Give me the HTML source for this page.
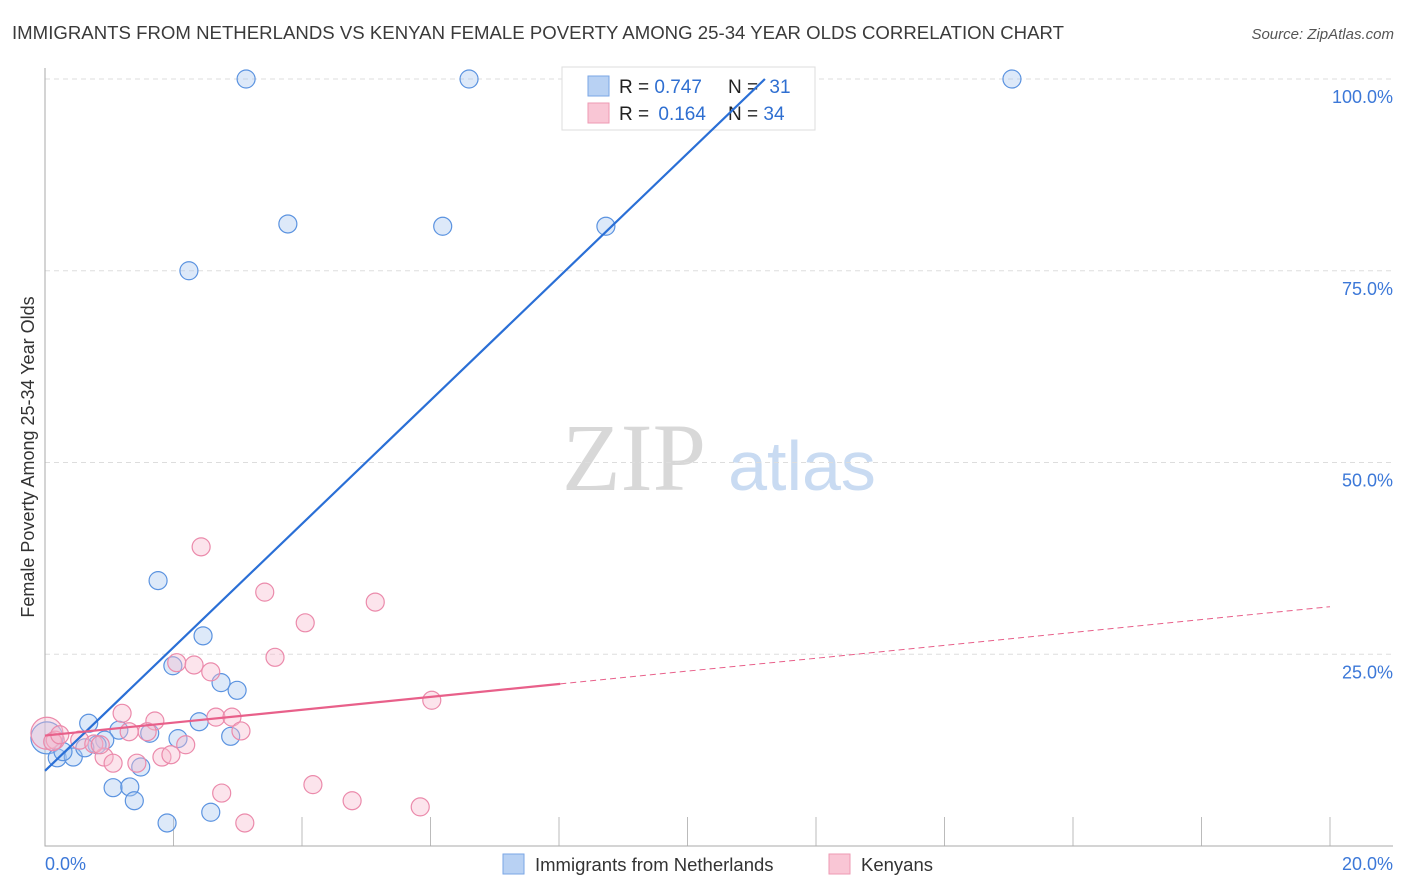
<!DOCTYPE html>
<html><head><meta charset="utf-8"><style>
body{margin:0;background:#fff;font-family:"Liberation Sans",sans-serif}
svg{display:block}
</style></head><body>
<svg id="c" width="1406" height="892">
<text x="12" y="39" font-size="18.6" fill="#3a3a3a" textLength="1052">IMMIGRANTS FROM NETHERLANDS VS KENYAN FEMALE POVERTY AMONG 25-34 YEAR OLDS CORRELATION CHART</text>
<text x="1394" y="39" font-size="15" fill="#555" font-style="italic" text-anchor="end">Source: ZipAtlas.com</text>
<text x="634" y="490" font-size="96" fill="#d8d8d8" font-family="Liberation Serif,serif" text-anchor="middle">ZIP</text>
<text x="802" y="490" font-size="70" fill="#c9dbf2" text-anchor="middle">atlas</text>
<text transform="translate(34,457) rotate(-90)" font-size="18" fill="#333" text-anchor="middle">Female Poverty Among 25-34 Year Olds</text>
<g id="grid"></g>
<g>
<rect x="562" y="67" width="253" height="63" fill="#fff" stroke="#ddd"/>
<rect x="588" y="76" width="21" height="20" fill="#b8d1f3" stroke="#7aa6e6"/>
<rect x="588" y="103" width="21" height="20" fill="#f9c6d5" stroke="#ee9ab3"/>
<text x="619" y="93" font-size="19" fill="#222">R = <tspan fill="#2f6fd1">0.747</tspan></text>
<text x="728" y="93" font-size="19" fill="#222">N = <tspan fill="#2f6fd1" dx="6">31</tspan></text>
<text x="619" y="120" font-size="19" fill="#222">R = <tspan fill="#2f6fd1" dx="4">0.164</tspan></text>
<text x="728" y="120" font-size="19" fill="#222">N = <tspan fill="#2f6fd1">34</tspan></text>
</g>
<g id="marks"></g>
<rect x="503" y="854" width="21" height="20" fill="#b8d1f3" stroke="#7aa6e6"/>
<text x="535" y="871" font-size="18.5" fill="#333">Immigrants from Netherlands</text>
<rect x="829" y="854" width="21" height="20" fill="#f9c6d5" stroke="#ee9ab3"/>
<text x="861" y="871" font-size="18.5" fill="#333">Kenyans</text>
<text x="45" y="870" font-size="18" fill="#3c78d8">0.0%</text>
<text x="1393" y="870" font-size="18" fill="#3c78d8" text-anchor="end">20.0%</text>
</svg>
<script>
const blueX=[3.13,6.60,15.05,3.78,6.19,8.73,2.24,1.76,2.46,1.99,2.74,2.99,0.68,2.40,1.63,1.15,2.89,2.07,0.93,0.81,0.03,0.19,0.44,0.28,1.49,1.06,1.32,1.39,1.90,2.58,0.62];
const blueY=[100,100,100,81.1,80.8,80.8,75.0,34.6,27.4,23.5,21.3,20.3,16.0,16.2,14.7,15.1,14.3,14.0,13.8,13.2,14.1,11.5,11.6,12.3,10.3,7.6,7.7,5.9,3.0,4.4,12.8];
const pinkX=[2.43,3.42,5.14,4.05,3.58,2.05,2.32,2.58,6.02,1.20,1.71,2.66,2.91,3.05,1.31,1.59,2.19,1.82,1.96,0.92,1.06,1.43,0.03,0.16,0.54,0.76,0.12,2.75,4.17,4.78,5.84,3.11,0.23,0.86];
const pinkY=[39.0,33.1,31.8,29.1,24.6,23.9,23.6,22.7,19.0,17.3,16.3,16.8,16.8,15.0,14.9,14.9,13.2,11.6,11.9,11.6,10.8,10.8,14.7,13.8,13.8,13.3,13.6,6.9,8.0,5.9,5.1,3.0,14.5,13.2];
const yTicks=[25,50,75,100];
const yTickLabels=["25.0%","50.0%","75.0%","100.0%"];
const blueTrend=[9.8,8.05]; // intercept, slope
const pinkTrend=[14.4,0.84,8.02]; // intercept, slope, solid end
const NS="http://www.w3.org/2000/svg";
const sx=v=>45+v/20*1285, sy=v=>846-v/100*767;
function mk(t,a,p){const e=document.createElementNS(NS,t);for(const k in a)e.setAttribute(k,a[k]);p.appendChild(e);return e;}
const g=document.getElementById('grid'),m=document.getElementById('marks');
yTicks.forEach((t,i)=>{
 const l=mk('line',{x1:45,x2:1393,y1:sy(t),y2:sy(t),stroke:'#ddd','stroke-dasharray':'5,4'},g);
 
 
 const tx=mk('text',{x:1393,y:sy(t)+24,'font-size':18,fill:'#3c78d8','text-anchor':'end'},g);
 tx.textContent=yTickLabels[i];
 
 
});
for(let i=0;i<=10;i++){
 const l=mk('line',{x1:sx(i*2),x2:sx(i*2),y1:817,y2:846,stroke:'#bbb'},g);
 
 
}
const ax=mk('path',{d:'M45,68V846H1393',fill:'none',stroke:'#aaa'},g);


function pts(X,Y,fill,stroke,name){
 X.forEach((x,i)=>{
  const big=x<0.1;
  const c=mk('circle',{cx:sx(x),cy:sy(Y[i]),r:big?16:9,fill:fill,'fill-opacity':0.4,stroke:stroke,'stroke-width':1.2},m);
  
  
 });
}
pts(blueX,blueY,'#a9c8f0','#5b93e0','point-netherlands');
pts(pinkX,pinkY,'#f7bcd0','#eb8aab','point-kenyans');
const bEnd=(100-blueTrend[0])/blueTrend[1];
const bl=mk('line',{x1:sx(0),y1:sy(blueTrend[0]),x2:sx(bEnd),y2:sy(100),stroke:'#2a6fd6','stroke-width':2.2},m);


const pl=mk('line',{x1:sx(0),y1:sy(pinkTrend[0]),x2:sx(pinkTrend[2]),y2:sy(pinkTrend[0]+pinkTrend[1]*pinkTrend[2]),stroke:'#e8608a','stroke-width':2.2},m);


const pd=mk('line',{x1:sx(pinkTrend[2]),y1:sy(pinkTrend[0]+pinkTrend[1]*pinkTrend[2]),x2:sx(20),y2:sy(pinkTrend[0]+pinkTrend[1]*20),stroke:'#e8608a','stroke-width':1,'stroke-dasharray':'6,4'},m);


</script>
</body></html>
